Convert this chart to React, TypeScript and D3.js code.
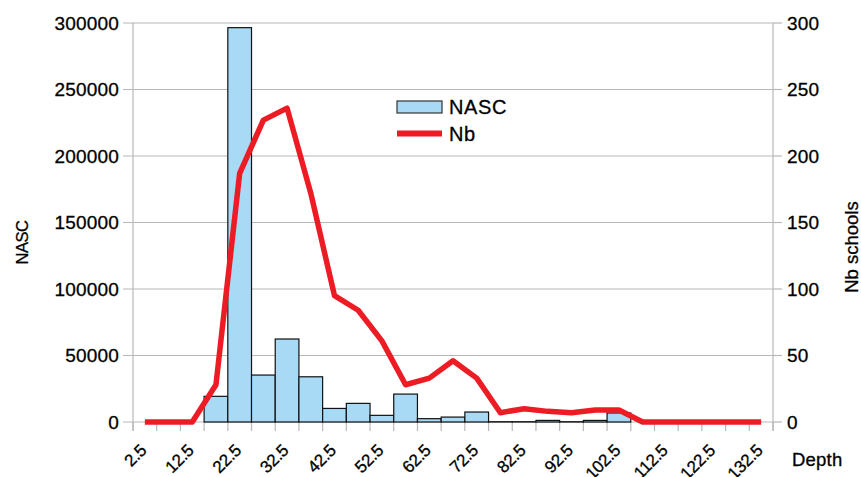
import { useEffect, useRef } from "react";
import * as d3 from "d3";

const WIDTH = 861;
const HEIGHT = 477;
const MARGIN = { top: 23, right: 88, bottom: 55, left: 133 };

const depths = [
  "2.5", "7.5", "12.5", "17.5", "22.5", "27.5", "32.5", "37.5", "42.5", "47.5",
  "52.5", "57.5", "62.5", "67.5", "72.5", "77.5", "82.5", "87.5", "92.5", "97.5",
  "102.5", "107.5", "112.5", "117.5", "122.5", "127.5", "132.5",
];
const labelledDepths = ["2.5", "12.5", "22.5", "32.5", "42.5", "52.5", "62.5", "72.5", "82.5", "92.5", "102.5", "112.5", "122.5", "132.5"];

const nasc = [
  0, 0, 0, 19300, 296500, 35300, 62400, 34000, 10200, 14000,
  5000, 21000, 2500, 3700, 7500, 200, 200, 1200, 200, 1200,
  6800, 0, 0, 0, 0, 0, 0,
];
const nbSchools = [
  0, 0, 0, 28, 187, 227, 236, 172, 95, 84,
  61, 28, 33, 46, 33, 7, 10, 8, 7, 9,
  9, 0, 0, 0, 0, 0, 0,
];

const leftTicks = [0, 50000, 100000, 150000, 200000, 250000, 300000];
const rightTicks = [0, 50, 100, 150, 200, 250, 300];

const FONT = "'Liberation Sans', Arial, sans-serif";
const GRID = "#b8b8b8";
const RED = "#ed1c24";
const BLUE = "#a8daf6";
const INK = "#000";

export default function App() {
  const ref = useRef<SVGSVGElement>(null);

  useEffect(() => {
    const svg = d3.select(ref.current);
    svg.selectAll("*").remove();

    const x0 = MARGIN.left;
    const x1 = WIDTH - MARGIN.right;
    const y0 = HEIGHT - MARGIN.bottom;
    const y1 = MARGIN.top;

    const x = d3.scaleBand<string>().domain(depths).range([x0, x1]).padding(0);
    const yLeft = d3.scaleLinear().domain([0, 300000]).range([y0, y1]);
    const yRight = d3.scaleLinear().domain([0, 300]).range([y0, y1]);

    // gridlines + left ticks
    svg
      .append("g")
      .selectAll("line")
      .data(leftTicks)
      .join("line")
      .attr("x1", x0 - 10)
      .attr("x2", x1)
      .attr("y1", (d) => yLeft(d))
      .attr("y2", (d) => yLeft(d))
      .attr("stroke", GRID)
      .attr("stroke-width", 1.2);

    // right ticks
    svg
      .append("g")
      .selectAll("line")
      .data(rightTicks)
      .join("line")
      .attr("x1", x1)
      .attr("x2", x1 + 9)
      .attr("y1", (d) => yRight(d))
      .attr("y2", (d) => yRight(d))
      .attr("stroke", GRID)
      .attr("stroke-width", 1.2);

    // axis lines
    svg.append("line").attr("x1", x0).attr("x2", x0).attr("y1", y1).attr("y2", y0 + 9).attr("stroke", GRID).attr("stroke-width", 1.2);
    svg.append("line").attr("x1", x1).attr("x2", x1).attr("y1", y1).attr("y2", y0 + 9).attr("stroke", GRID).attr("stroke-width", 1.2);

    // x ticks at category boundaries
    const bounds = depths.map((d) => x(d) as number).concat([x1]);
    svg
      .append("g")
      .selectAll("line")
      .data(bounds)
      .join("line")
      .attr("x1", (d) => d)
      .attr("x2", (d) => d)
      .attr("y1", y0)
      .attr("y2", y0 + 9)
      .attr("stroke", GRID)
      .attr("stroke-width", 1.2);

    // bars
    svg
      .append("g")
      .selectAll("rect")
      .data(nasc.map((v, i) => ({ depth: depths[i], v })).filter((d) => d.v > 0))
      .join("rect")
      .attr("x", (d) => x(d.depth) as number)
      .attr("width", x.bandwidth())
      .attr("y", (d) => yLeft(d.v))
      .attr("height", (d) => y0 - yLeft(d.v))
      .attr("fill", BLUE)
      .attr("stroke", "#111")
      .attr("stroke-width", 1.2);

    // line
    const line = d3
      .line<number>()
      .x((_, i) => (x(depths[i]) as number) + x.bandwidth() / 2)
      .y((d) => yRight(d));
    svg
      .append("path")
      .attr("d", line(nbSchools))
      .attr("fill", "none")
      .attr("stroke", RED)
      .attr("stroke-width", 5.5)
      .attr("stroke-linejoin", "round");

    const texts = svg.append("g").attr("stroke", INK).attr("stroke-width", 0.3).attr("fill", INK).attr("font-family", FONT);

    // left labels
    texts
      .append("g")
      .selectAll("text")
      .data(leftTicks)
      .join("text")
      .attr("x", x0 - 14)
      .attr("y", (d) => yLeft(d))
      .attr("dy", "0.35em")
      .attr("text-anchor", "end")
      .attr("font-size", 19)
      .attr("letter-spacing", 0.2)
      .text((d) => String(d));

    // right labels
    texts
      .append("g")
      .selectAll("text")
      .data(rightTicks)
      .join("text")
      .attr("x", x1 + 14)
      .attr("y", (d) => yRight(d))
      .attr("dy", "0.35em")
      .attr("font-size", 19)
      .attr("letter-spacing", 0.2)
      .text((d) => String(d));

    // x labels (the lowest ones run off the bottom edge, as in the original)
    texts
      .append("g")
      .selectAll("text")
      .data(labelledDepths)
      .join("text")
      .attr("transform", (d) => `translate(${(x(d) as number) + x.bandwidth() / 2 + 2.5},${y0 + 29.5}) rotate(-45)`)
      .attr("text-anchor", "end")
      .attr("font-size", 17)
      .attr("letter-spacing", -0.3)
      .text((d) => d);

    // axis titles
    texts
      .append("text")
      .attr("x", 792)
      .attr("y", 466)
      .attr("font-size", 18.5)
      .attr("letter-spacing", 0.2)
      .text("Depth");

    texts
      .append("text")
      .attr("transform", `translate(28,242.5) rotate(-90)`)
      .attr("text-anchor", "middle")
      .attr("font-size", 16.5)
      .attr("letter-spacing", -0.5)
      .text("NASC");

    texts
      .append("text")
      .attr("transform", `translate(858,247) rotate(-90)`)
      .attr("text-anchor", "middle")
      .attr("font-size", 18.5)
      .text("Nb schools");

    // legend
    const legend = svg.append("g").attr("transform", "translate(397,101)");
    legend.append("rect").attr("width", 45).attr("height", 12).attr("fill", BLUE).attr("stroke", "#333").attr("stroke-width", 1.2);
    legend.append("line").attr("x1", 0).attr("x2", 45).attr("y1", 32.5).attr("y2", 32.5).attr("stroke", RED).attr("stroke-width", 6);
    legend
      .selectAll("text")
      .data([
        { label: "NASC", y: 6 },
        { label: "Nb", y: 32.5 },
      ])
      .join("text")
      .attr("x", 52)
      .attr("y", (d) => d.y)
      .attr("dy", "0.35em")
      .attr("font-family", FONT)
      .attr("font-size", 20)
      .attr("letter-spacing", 0.6)
      .attr("fill", INK)
      .attr("stroke", INK)
      .attr("stroke-width", 0.3)
      .text((d) => d.label);
  }, []);

  return (
    <svg
      ref={ref}
      width={WIDTH}
      height={HEIGHT}
      style={{ position: "absolute", left: 0, top: 0, background: "#fff" }}
    />
  );
}
